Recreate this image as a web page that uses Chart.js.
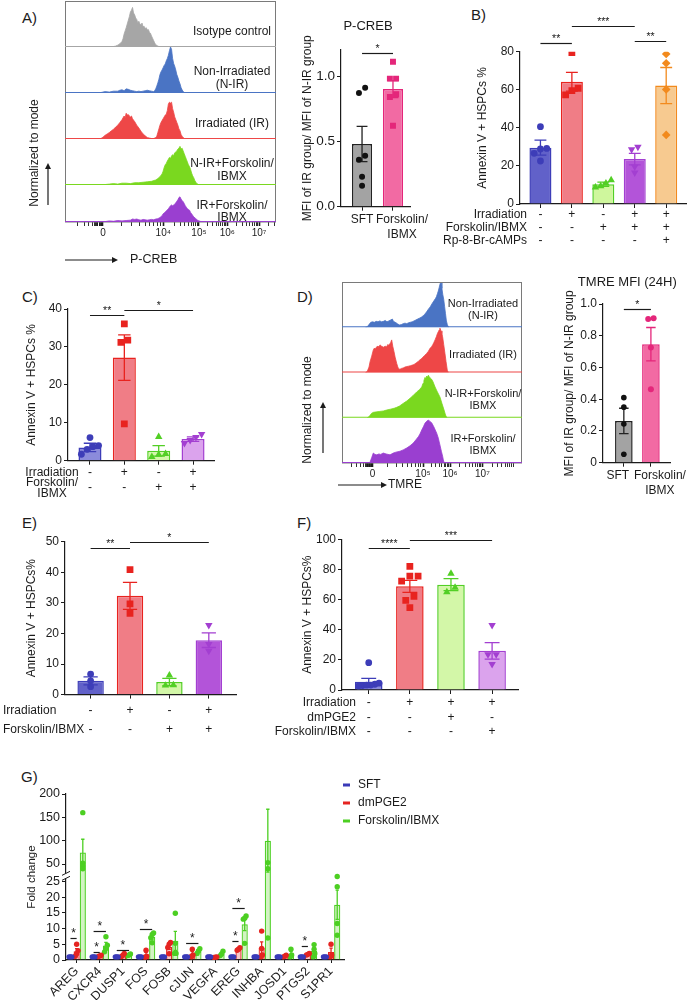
<!DOCTYPE html>
<html>
<head>
<meta charset="utf-8">
<title>cAMP signalling in irradiated HSPCs</title>
<script src="https://cdn.jsdelivr.net/npm/chart.js@4.4.1/dist/chart.umd.min.js"></script>
<style>
  body { margin: 0; background: #fff; }
  #fig { position: relative; width: 692px; height: 1000px; overflow: hidden; font-family: "Liberation Sans", Arial, sans-serif; color: #1b1b1b; }
  #fig canvas { position: absolute; }
  .tag { position: absolute; font-size: 15px; line-height: 17px; }
</style>
</head>
<body>
<div id="fig">
  <div class="tag" style="left:22px;top:9px">A)</div>
  <div class="tag" style="left:471px;top:6px">B)</div>
  <div class="tag" style="left:22px;top:288px">C)</div>
  <div class="tag" style="left:297px;top:288px">D)</div>
  <div class="tag" style="left:22px;top:514px">E)</div>
  <div class="tag" style="left:297px;top:514px">F)</div>
  <div class="tag" style="left:21px;top:768px">G)</div>
</div>
<script>
// ---------- A) P-CREB histograms: [display channel 0-100, % of mode] ----------
const pcrebTickPos = [18, 46.6, 63.5, 76.9, 92];
const pcrebTickText = ['0', '10⁴', '10⁵', '10⁶', '10⁷'];
const pcrebRows = ['Isotype control', 'Non-Irradiated\n(N-IR)', 'Irradiated (IR)', 'N-IR+Forskolin/\nIBMX', 'IR+Forskolin/\nIBMX'];
const isoPcreb = [[22,0],[23,1],[24,2],[25,4],[26,7],[27,12],[27.5,18],[28,28],[28.5,35],[29,42],[29.5,50],[30,58],[30.5,66],[31,76],[31.5,80],[32,86],[32.5,74],[33,70],[33.5,63],[34,60],[34.5,52],[35,56],[35.5,50],[36,48],[36.5,52],[37,44],[37.5,45],[38,40],[38.5,42],[39,37],[39.5,38],[40,32],[40.5,30],[41,24],[41.5,19],[42,14],[42.5,9],[43,5],[44,2],[45,0]];
const nirPcreb = [[15,0],[17,1],[19,3],[21,2],[23,4],[25,4],[26,6],[27,7],[28,5],[29,9],[30,8],[31,6],[32,5],[33,4],[34,3],[35,4],[36,3],[37,4],[38,5],[39,6],[40,5],[41,4],[42,3],[42.5,5],[43,9],[43.5,15],[44,22],[44.5,30],[45,40],[45.5,46],[46,50],[46.5,55],[47,60],[47.5,63],[48,70],[48.5,75],[49,82],[49.5,92],[50,100],[50.5,95],[51,75],[51.5,64],[52,58],[52.5,50],[53,40],[53.5,34],[54,26],[54.5,20],[55,12],[55.5,7],[56,3],[57,0]];
const irPcreb = [[15,0],[17,1],[18,4],[19,8],[20,11],[21,14],[22,18],[23,21],[24,26],[25,30],[26,36],[27,42],[27.5,46],[28,50],[28.5,47],[29,56],[29.5,52],[30,53],[30.5,50],[31,48],[31.5,50],[32,44],[33,38],[34,30],[35,24],[36,17],[37,11],[38,7],[39,3],[40,2],[41,1],[42,1],[43,3],[43.5,6],[44,14],[44.5,22],[45,30],[45.5,36],[46,40],[46.5,44],[47,48],[47.5,52],[48,54],[48.5,62],[49,76],[49.5,80],[50,78],[50.5,80],[51,66],[51.5,58],[52,48],[52.5,42],[53,36],[53.5,30],[54,22],[54.5,18],[55,10],[55.5,6],[56,3],[57,0]];
const nirFskPcreb = [[17,0],[19,1],[21,2],[23,3],[25,2],[27,4],[29,4],[31,3],[33,5],[35,5],[37,6],[39,7],[41,8],[43,11],[44,14],[45,18],[46,24],[46.5,30],[47,38],[47.5,44],[48,47],[48.5,52],[49,56],[49.5,60],[50,58],[50.5,63],[51,66],[51.5,64],[52,70],[52.5,72],[53,74],[53.5,78],[54,80],[54.5,84],[55,78],[55.5,80],[56,74],[56.5,68],[57,62],[57.5,56],[58,50],[58.5,44],[59,40],[59.5,34],[60,26],[60.5,20],[61,16],[61.5,10],[62,6],[62.5,3],[63.5,0]];
const irFskPcreb = [[17,0],[19,1],[21,3],[23,2],[25,4],[27,3],[29,4],[31,5],[32,8],[33,7],[34,8],[35,6],[36,5],[37,7],[38,6],[39,5],[40,6],[41,7],[42,6],[43,8],[44,9],[45,12],[46,17],[46.5,22],[47,24],[47.5,27],[48,30],[48.5,33],[49,36],[49.5,40],[50,44],[50.5,46],[51,44],[51.5,46],[52,48],[52.5,52],[53,56],[53.5,60],[54,66],[54.5,68],[55,62],[55.5,58],[56,55],[56.5,50],[57,44],[57.5,40],[58,36],[58.5,34],[59,32],[59.5,26],[60,22],[60.5,18],[61,14],[62,9],[63,4],[64,2],[65,0]];

// ---------- D) TMRE histograms ----------
const tmreTickPos = [17, 45, 60, 78];
const tmreTickText = ['0', '10⁵', '10⁶', '10⁷'];
const tmreRows = ['Non-Irradiated\n(N-IR)', 'Irradiated (IR)', 'N-IR+Forskolin/\nIBMX', 'IR+Forskolin/\nIBMX'];
const nirTmre = [[13,0],[14,1],[15,6],[16,11],[17,12],[18,11],[19,13],[20,12],[21,14],[22,12],[23,13],[24,15],[25,12],[26,14],[27,16],[28,18],[28.5,14],[29,12],[30,10],[31,7],[32,5],[33,6],[34,8],[35,9],[36,8],[37,10],[38,11],[39,12],[40,14],[41,16],[42,18],[43,20],[44,22],[45,25],[46,29],[47,34],[48,40],[49,45],[50,52],[51,58],[52,64],[52.5,68],[53,74],[53.5,80],[54,88],[54.5,96],[55,100],[55.5,86],[56,72],[56.5,62],[57,46],[57.5,30],[58,14],[58.5,6],[59,1],[59.5,0]];
const irTmre = [[13,0],[14,2],[15,12],[15.6,24],[16.5,36],[17.4,50],[18,54],[18.5,52],[19.3,57],[20,58],[20.5,56],[21.1,61],[22,58],[23,56],[24,58],[24.8,57],[25.5,62],[26,60],[27,66],[27.6,72],[28.2,58],[28.9,46],[29.5,34],[30.4,20],[31,12],[31.6,8],[32.2,7],[33,9],[34,10],[35,12],[35.9,13],[37,14],[38,15],[39.6,17],[40.5,19],[41.5,22],[42.5,25],[43.3,28],[44,30],[45,34],[46,38],[47,42],[48,47],[49,54],[49.8,57],[50.5,62],[51,66],[51.7,72],[52.5,80],[53,86],[53.5,90],[54,94],[54.4,98],[55,92],[55.5,86],[55.9,79],[56.5,62],[57.2,42],[57.8,24],[58.5,5],[59.1,0]];
const nirFskTmre = [[14,0],[14.6,1],[15.5,5],[16.5,10],[17.5,12],[19.3,13],[21,14],[23,15],[24.8,17],[27,19],[29,21],[30.4,23],[32,26],[34.1,32],[36,37],[37.8,43],[39.5,49],[41.5,57],[43,62],[44.3,68],[45,76],[45.5,82],[46.1,89],[46.5,86],[47,92],[47.5,90],[48,94],[48.5,90],[49,88],[49.8,85],[50.5,80],[51.7,68],[53,57],[54.4,46],[55.5,32],[56.7,17],[57.5,6],[58.1,1],[58.5,0]];
const irFskTmre = [[15,0],[15.6,2],[16.5,12],[17.4,22],[18.3,19],[19.3,18],[20.5,20],[21.5,19],[22.9,22],[24.5,20],[26.7,18],[28.5,22],[30,24],[32.2,26],[34,29],[35.9,33],[37.8,38],[39.6,44],[41,51],[42.4,58],[43.3,64],[44.3,73],[45.2,80],[46.1,88],[47,92],[48,95],[48.5,93],[49.8,89],[51,80],[52.6,66],[53.5,55],[54.4,40],[55.2,26],[55.9,15],[56.3,7],[56.7,1],[57,0]];

// ---------- bar panels: means, SEM, replicate points ----------
const mfiGroups = ['SFT', 'Forskolin/\nIBMX'];
const pcrebMfiMean = [0.48, 0.90];
const pcrebMfiSem = [0.135, 0.065];
const pcrebMfiPts = [[0.91, 0.87, 0.39, 0.36, 0.23, 0.16], [1.11, 0.98, 0.98, 0.86, 0.84, 0.62]];
const sigA = [[0, 1, '*', 1.176]];

const annexinBMean = [29.6, 64.2, 10.4, 23.6, 62.2];
const annexinBSem = [3.9, 4.9, 1.1, 3.0, 9.5];
const annexinBPts = [[40.6, 29.2, 28.9, 26.6, 22.6], [79.5, 60.8, 59.5, 57.3], [12.6, 10.9, 9.4, 8.8], [30.0, 28.7, 19.6, 16.5], [78.8, 73.9, 60.2, 36.3]];
const condB = [['Irradiation', '-+-++'], ['Forskolin/IBMX', '--+++'], ['Rp-8-Br-cAMPs', '----+']];
const sigB = [[0, 1, '**', 84.4], [1, 3, '***', 93.5], [3, 4, '**', 85.8]];

const annexinCMean = [3.5, 27.2, 2.6, 5.7];
const annexinCSem = [1.1, 6.0, 1.4, 0.6];
const annexinCPts = [[6.1, 4.0, 3.7, 3.0, 1.7], [36.1, 31.8, 31.2, 9.7], [6.3, 1.8, 1.6, 1.0], [7.0, 6.2, 5.4, 4.6]];
const condC = [['Irradiation', '-+-+'], ['Forskolin/\nIBMX', '--++']];
const sigC = [[0, 1, '**', 38.4], [1, 3, '*', 39.7]];

const tmreMfiMean = [0.263, 0.747];
const tmreMfiSem = [0.08, 0.105];
const tmreMfiPts = [[0.41, 0.35, 0.244, 0.053], [0.905, 0.91, 0.726, 0.463]];
const sigD = [[0, 1, '*', 0.967]];

const annexinEMean = [4.5, 32.3, 4.1, 17.8];
const annexinESem = [1.3, 4.4, 1.2, 2.4];
const annexinEPts = [[6.7, 4.5, 2.6], [40.9, 29.7, 26.6], [6.3, 3.1, 3.0], [22.7, 16.5, 14.3]];
const condE = [['Irradiation', '-+-+'], ['Forskolin/IBMX', '--++']];
const sigE = [[0, 1, '**', 47.8], [1, 3, '*', 49.8]];

const annexinFMean = [5.5, 68.8, 69.9, 26.0];
const annexinFSem = [2.2, 4.0, 4.0, 5.5];
const annexinFPts = [[18.1, 4.5, 3.8, 3.3, 3.0, 2.6, 3.2], [82.0, 75.6, 75.6, 72.3, 62.2, 59.5, 54.7], [77.2, 67.9, 65.0], [43.0, 23.6, 23.6, 17.2]];
const condF = [['Irradiation', '-+++'], ['dmPGE2', '--+-'], ['Forskolin/IBMX', '---+']];
const sigF = [[0, 1, '****', 94.5], [1, 3, '***', 99.8]];

// ---------- G) qPCR fold change ----------
const genes = ['AREG', 'CXCR4', 'DUSP1', 'FOS', 'FOSB', 'cJUN', 'VEGFA', 'EREG', 'INHBA', 'JOSD1', 'PTGS2', 'S1PR1'];
const foldSeries = ['SFT', 'dmPGE2', 'Forskolin/IBMX'];
const sftFold = [[1,1,1],[1,1,1],[1,1,1],[1,1,1],[1,1,1],[1,1,1],[1,1,1],[1,1,1],[1,1,1],[1,1,1],[1,1,1],[1,1,1]];
const pgeFold = [[5.0,3.0,2.0,1.2],[1.5,1.3,1.1],[2.1,1.5,1.1],[3.1,1.2,0.9],[5.6,5.0,4.0,2.0],[3.4,1.6,1.0],[1.0,0.9,0.8],[3.9,3.4,3.1],[9.2,3.7,1.6,1.0],[1.5,1.2,1.0],[2.1,1.8,1.6],[5.0,1.6,1.0]];
const fskFold = [[160,52,46,40],[7.4,4.7,3.7,2.6],[1.9,1.6,1.4],[8.6,8.1,7.1,5.5],[14.9,5.3,2.1,2.1],[3.6,2.9,2.1],[2.8,1.9,1.4],[14.0,13.3,13.0,5.3],[300,53,40,7],[3.4,1.6,1.0],[4.9,3.4,2.1,1.0],[27.5,23.3,11.6,7.9]];
const foldTicks = [0, 5, 10, 15, 20, 25, 50, 100, 150, 200];
const foldSig = [[0,0,1,7.1],[1,0,1,2.4],[1,0,2,9.2],[2,0,2,3.2],[3,0,2,10],[5,0,2,5.3],[7,0,1,6.1],[7,0,2,16.5],[10,0,1,4.5]];

// ---------- common ----------
const ink = '#1b1b1b';
const fam = '"Liberation Sans", Arial, sans-serif';
Chart.defaults.font.family = fam;
Chart.defaults.font.size = 12;
Chart.defaults.color = ink;
Chart.defaults.animation = false;
const fig = document.getElementById('fig');

function makeCanvas(c) {
  const el = document.createElement('canvas');
  el.width = c.w; el.height = c.h;
  el.style.left = c.left + 'px'; el.style.top = c.top + 'px';
  el.style.width = c.w + 'px'; el.style.height = c.h + 'px';
  fig.appendChild(el);
  return el;
}

const mean = a => a.reduce((s, v) => s + v, 0) / a.length;
const sem = a => { const m = mean(a); return Math.sqrt(a.reduce((s, v) => s + (v - m) ** 2, 0) / (a.length - 1) / a.length); };

// side-by-side offsets for replicate points that would overlap
function spread(vals, near, step, limit) {
  const order = vals.map((v, i) => i).sort((p, q) => vals[p] - vals[q]);
  const off = vals.map(() => 0);
  let group = [];
  const place = () => {
    const s = group.length > 1 ? Math.min(step, 2 * limit / (group.length - 1)) : 0;
    group.forEach((k, j) => { off[k] = (j - (group.length - 1) / 2) * s; });
  };
  order.forEach(k => {
    if (group.length && vals[k] - vals[group[group.length - 1]] > near) { place(); group = []; }
    group.push(k);
  });
  place();
  return off;
}

function arrow(ctx, x0, y0, x1, y1) {
  const ang = Math.atan2(y1 - y0, x1 - x0), L = 6, W = 3;
  const c = Math.cos(ang), s = Math.sin(ang);
  ctx.strokeStyle = ink; ctx.fillStyle = ink; ctx.lineWidth = 1.2;
  ctx.beginPath(); ctx.moveTo(x0, y0); ctx.lineTo(x1 - L * c, y1 - L * s); ctx.stroke();
  ctx.beginPath(); ctx.moveTo(x1, y1);
  ctx.lineTo(x1 - L * c + W * s, y1 - L * s - W * c);
  ctx.lineTo(x1 - L * c - W * s, y1 - L * s + W * c);
  ctx.closePath(); ctx.fill();
}

function drawFlow(chart, f) {
  const ctx = chart.ctx, a = chart.chartArea;
  ctx.lineWidth = 1; ctx.strokeStyle = '#7a7a7a';
  ctx.strokeRect(a.left + 0.5, a.top + 0.5, a.right - a.left - 1, a.bottom - a.top - 0.5);
  f.colors.forEach((c, i) => {
    const s = chart.scales['r' + i];
    ctx.strokeStyle = c; ctx.lineWidth = 1.2;
    ctx.beginPath(); ctx.moveTo(a.left, s.bottom - 0.5); ctx.lineTo(a.right, s.bottom - 0.5); ctx.stroke();
    const lines = f.rows[i].split('\n');
    ctx.fillStyle = ink; ctx.font = f.font + 'px ' + fam; ctx.textAlign = 'center'; ctx.textBaseline = 'middle';
    const cy = (s.top + s.bottom) / 2 + f.labelDy - (lines.length - 1) * f.lh / 2;
    lines.forEach((t, k) => ctx.fillText(t, a.right + f.labelDx, cy + k * f.lh));
  });
  ctx.save();
  ctx.translate(a.left + f.yTitleDx, a.bottom + f.yTitleDy); ctx.rotate(-Math.PI / 2);
  ctx.font = '12px ' + fam; ctx.textAlign = 'center'; ctx.textBaseline = 'middle'; ctx.fillStyle = ink;
  ctx.fillText(f.yTitle, 0, 0);
  ctx.restore();
  arrow(ctx, a.left + f.arrowDx, a.bottom + f.arrowDy0, a.left + f.arrowDx, a.bottom + f.arrowDy1);
  arrow(ctx, a.left + f.xArrow0, a.bottom + f.xArrowDy, a.left + f.xArrow1, a.bottom + f.xArrowDy);
  ctx.textAlign = 'left'; ctx.textBaseline = 'middle'; ctx.font = f.xFont + 'px ' + fam;
  ctx.fillText(f.xTitle, a.left + f.xTitleDx, a.bottom + f.xArrowDy);
}

const panelDecor = {
  id: 'panelDecor',
  afterDatasetDraw(chart, args) {
    const ds = chart.data.datasets[args.index];
    if (!ds.errors) return;
    const ctx = chart.ctx, y = chart.scales.y;
    ctx.save();
    ctx.lineWidth = 1.3;
    args.meta.data.forEach((bar, i) => {
      const e = ds.errors[i];
      if (!e) return;
      const m = ds.data[i].y;
      const top = y.getPixelForValue(m + e), bot = y.getPixelForValue(Math.max(m - e, 0));
      const h = bar.width * 0.27;
      ctx.strokeStyle = Array.isArray(ds.borderColor) ? ds.borderColor[i] : ds.borderColor;
      ctx.beginPath();
      ctx.moveTo(bar.x, top); ctx.lineTo(bar.x, bot);
      ctx.moveTo(bar.x - h, top); ctx.lineTo(bar.x + h, top);
      ctx.moveTo(bar.x - h, bot); ctx.lineTo(bar.x + h, bot);
      ctx.stroke();
    });
    ctx.restore();
  },
  afterDraw(chart) {
    const d = chart.canvas.decor || {};
    const ctx = chart.ctx, a = chart.chartArea;
    ctx.save();
    ctx.fillStyle = ink; ctx.strokeStyle = ink;
    if (d.flow) drawFlow(chart, d.flow);
    if (d.heading) {
      ctx.font = '13px ' + fam; ctx.textAlign = 'center'; ctx.textBaseline = 'middle'; ctx.fillStyle = ink;
      ctx.fillText(d.heading.text, (a.left + a.right) / 2 + d.heading.dx, a.top + d.heading.dy);
    }
    (d.sig || []).forEach(s => {
      const xa = chart.getDatasetMeta(s.da).data[s.ia].x, xb = chart.getDatasetMeta(s.db).data[s.ib].x;
      const y = Math.round(chart.scales.y.getPixelForValue(s.y)) + 0.5;
      ctx.strokeStyle = ink; ctx.lineWidth = 1.2;
      ctx.beginPath(); ctx.moveTo(xa, y); ctx.lineTo(xb, y); ctx.stroke();
      ctx.font = (d.sigFont || 10.5) + 'px ' + fam; ctx.textAlign = 'center'; ctx.textBaseline = 'alphabetic'; ctx.fillStyle = ink;
      ctx.fillText(s.t, (xa + xb) / 2, y - 2);
    });
    if (d.conds) {
      const meta = chart.getDatasetMeta(0), c = d.conds;
      ctx.font = '12px ' + fam; ctx.textBaseline = 'middle'; ctx.fillStyle = ink;
      c.rows.forEach(([label, signs], r) => {
        const y = a.bottom + c.y0 + r * c.dy;
        ctx.textAlign = 'center';
        signs.split('').forEach((s, i) => ctx.fillText(s, meta.data[i].x, y));
        ctx.textAlign = c.align;
        const lines = label.split('\n');
        lines.forEach((t, k) => ctx.fillText(t, a.left + c.lx, y + (k - (lines.length - 1) / 2) * 11.5));
      });
    }
    if (d.brk) {
      const ys = chart.scales.y, x = a.left;
      const p0 = ys.getPixelForValue(d.brk[0]), p1 = ys.getPixelForValue(d.brk[1]);
      ctx.fillStyle = '#fff'; ctx.fillRect(x - 2, p1, 4, p0 - p1);
      ctx.strokeStyle = ink; ctx.lineWidth = 1;
      [p0, p1].forEach(p => { ctx.beginPath(); ctx.moveTo(x - 4, p + 2); ctx.lineTo(x + 4, p - 2); ctx.stroke(); });
    }
    if (d.key) {
      const bars = chart.data.datasets.filter(x => x.type === 'bar');
      ctx.font = '12px ' + fam; ctx.textAlign = 'left'; ctx.textBaseline = 'middle';
      bars.forEach((b, i) => {
        const y = a.top + d.key.dy0 + i * d.key.dy;
        ctx.fillStyle = b.borderColor; ctx.fillRect(a.right + d.key.dx, y - 1.5, 7, 3);
        ctx.fillStyle = ink; ctx.fillText(b.label, a.right + d.key.dx + 15, y);
      });
    }
    ctx.restore();
  }
};

// ---------- flow histogram panels ----------
function flowTicks(pos, text) {
  const t = pos.map((v, i) => ({value: v, lab: text[i]}));
  const gaps = pos.slice(1).map((v, i) => [pos[i], v - pos[i]]);
  const last = pos[pos.length - 1];
  gaps.push([last, last - pos[pos.length - 2]]);
  gaps.push([pos[0] - (pos[1] - pos[0]) * 0.6, (pos[1] - pos[0]) * 0.6]);
  gaps.forEach(([start, w]) => { for (let m = 2; m < 10; m++) t.push({value: start + w * Math.log10(m), lab: ''}); });
  for (let k = 1; k <= 6; k++) t.push({value: pos[0] - 0.6 * k, lab: ''});
  return t.filter(q => q.value > 0.5 && q.value < 99.5).sort((p, q) => p.value - q.value);
}

function flowPanel(p) {
  const canvas = makeCanvas(p.canvas);
  canvas.decor = {flow: p.decor};
  const scales = {
    x: {
      type: 'linear', min: 0, max: 100,
      afterBuildTicks: s => { s.ticks = flowTicks(p.tickPos, p.tickText); },
      afterFit: s => { s.height = p.canvas.top + p.canvas.h - p.area.b; },
      ticks: {autoSkip: false, maxRotation: 0, padding: 1, font: {size: 10}, callback: (v, i, t) => t[i].lab},
      grid: {drawOnChartArea: false, tickLength: 4, color: ink, tickWidth: c => (c.tick && c.tick.lab) ? 1.6 : 0.9},
      border: {display: false}
    }
  };
  // stacked row axes are laid out bottom-up, so add the lowest row first
  for (let i = p.samples.length - 1; i >= 0; i--) {
    scales['r' + i] = {type: 'linear', position: 'left', stack: 'rows', stackWeight: p.weights[i], min: 0, max: 100, display: false};
  }
  return new Chart(canvas, {
    type: 'line',
    data: {
      datasets: p.samples.map((s, i) => ({
        data: s.map(q => ({x: q[0], y: q[1]})), yAxisID: 'r' + i,
        borderColor: p.decor.colors[i], backgroundColor: p.decor.colors[i],
        borderWidth: 0.8, fill: 'origin', pointRadius: 0, tension: 0
      }))
    },
    options: {
      responsive: false, events: [],
      layout: {padding: {left: p.area.l - p.canvas.left, top: p.area.t - p.canvas.top, right: p.canvas.left + p.canvas.w - p.area.r, bottom: 0}},
      plugins: {legend: {display: false}, tooltip: {enabled: false}},
      scales
    },
    plugins: [panelDecor]
  });
}

// ---------- bar + scatter panels ----------
function frame(c, a, titleX, titleSize) {
  const scaleLeft = titleX - titleSize * 1.2 / 2;
  return {
    pad: {left: scaleLeft - c.left, top: a.t - c.top, right: c.left + c.w - a.r, bottom: 0},
    yW: a.l - scaleLeft, xH: c.top + c.h - a.b
  };
}

function barPanel(p) {
  const canvas = makeCanvas(p.canvas);
  const L = frame(p.canvas, p.area, p.titleX, 12);
  canvas.decor = {
    heading: p.heading, conds: p.conds,
    sig: (p.sig || []).map(s => ({da: 0, ia: s[0], db: 0, ib: s[1], t: s[2], y: s[3]}))
  };
  const yTicks = [];
  for (let k = 0; k * p.yStep <= (p.yTop || p.yMax) + 1e-9; k++) yTicks.push({value: +(k * p.yStep).toFixed(4)});
  const dotSets = p.points.map((vals, i) => {
    const off = spread(vals, p.yMax * 0.035, 0.2, 0.25);
    return {
      type: 'line', order: 0, showLine: false,
      data: vals.map((v, k) => ({x: i + off[k], y: v})),
      pointStyle: p.shapes[i], pointRotation: p.rots ? p.rots[i] : 0, pointRadius: p.radii[i],
      pointBorderWidth: 0, pointBackgroundColor: p.dots[i], pointBorderColor: p.dots[i]
    };
  });
  const bars = {
    type: 'bar', order: 1, data: p.means.map((m, i) => ({x: i, y: m})), errors: p.sems,
    backgroundColor: p.fills, borderColor: p.edges, borderWidth: 1.5,
    categoryPercentage: 1, barPercentage: p.barFrac
  };
  const pre = p.labelPre || [], post = p.labelPost || [];
  return new Chart(canvas, {
    type: 'bar',
    data: {datasets: [bars, ...dotSets]},
    options: {
      responsive: false, events: [],
      layout: {padding: L.pad},
      plugins: {legend: {display: false}, tooltip: {enabled: false}},
      scales: {
        x: {
          type: 'linear', min: p.xMin, max: p.xMax, offset: false,
          afterBuildTicks: s => { s.ticks = p.groups.map((g, i) => ({value: i})); },
          afterFit: s => { s.height = L.xH; },
          ticks: {display: !!p.showLabels, autoSkip: false, maxRotation: 0, padding: 2, font: {size: 12},
            callback: (v, i) => p.groups[i].split('\n').map(t => (pre[i] || '') + t + (post[i] || ''))},
          grid: {offset: false, drawOnChartArea: false, tickLength: 4, color: ink},
          border: {color: ink, width: 1.2}
        },
        y: {
          min: 0, max: p.yMax,
          afterBuildTicks: s => { s.ticks = yTicks.map(t => ({value: t.value})); },
          afterFit: s => { s.width = L.yW; },
          ticks: {autoSkip: false, z: 1, padding: 2, font: {size: p.tickSize || 12}, callback: p.yFmt || (v => v)},
          grid: {drawOnChartArea: false, tickLength: 4, color: ink},
          border: {color: ink, width: 1.2},
          title: {display: true, text: p.yTitle, font: {size: 12}, padding: 0}
        }
      }
    },
    plugins: [panelDecor]
  });
}

// ---------- broken fold-change axis for G ----------
const foldLowTop = 26, foldHighBottom = 30;
function foldFraction(v) {
  const lowShare = 0.492, gapShare = 0.03;
  if (v <= foldLowTop) return v / foldLowTop * lowShare;
  if (v < foldHighBottom) return lowShare + (v - foldLowTop) / (foldHighBottom - foldLowTop) * gapShare;
  return lowShare + gapShare + (v - foldHighBottom) / (200 - foldHighBottom) * (1 - lowShare - gapShare);
}
class BrokenScale extends Chart.LinearScale {
  buildTicks() { this.start = this.min; this.end = this.max; return foldTicks.map(v => ({value: v})); }
  getPixelForValue(v) { return this.getPixelForDecimal(foldFraction(v)); }
  getValueForPixel(px) {
    const d = this.getDecimalForPixel(px);
    let lo = 0, hi = 400;
    for (let k = 0; k < 40; k++) { const mid = (lo + hi) / 2; if (foldFraction(mid) < d) lo = mid; else hi = mid; }
    return lo;
  }
}
BrokenScale.id = 'broken';
BrokenScale.defaults = {};
Chart.register(BrokenScale);

// ---------- build ----------
const treatEdge = ['#3d3db8', '#e8231f', '#52cf25', '#a33fd1', '#f28a1d'];
const shapes5 = ['circle', 'rect', 'triangle', 'triangle', 'rectRot'];
const rots5 = [0, 0, 0, 180, 0];
const radii5 = [3.4, 4.8, 4.3, 4.3, 4.3];
const en = '\u2002';

flowPanel({
  canvas: {left: 0, top: 0, w: 290, h: 275}, area: {l: 65, t: 1, r: 276, b: 222},
  samples: [isoPcreb, nirPcreb, irPcreb, nirFskPcreb, irFskPcreb], weights: [46, 46, 46, 46, 37],
  tickPos: pcrebTickPos, tickText: pcrebTickText,
  decor: {colors: ['#a6a6a6', '#4a74c4', '#ee4747', '#7ad81f', '#9a3fd0'], rows: pcrebRows, font: 12, lh: 12.5,
    labelDx: -44, labelDy: 8, yTitle: 'Normalized to mode', yTitleDx: -30, yTitleDy: -69,
    arrowDx: -17, arrowDy0: -17, arrowDy1: -59, xTitle: 'P-CREB', xFont: 12.5, xArrow0: 0, xArrow1: 53, xArrowDy: 38, xTitleDx: 65}
});

barPanel({
  canvas: {left: 280, top: 0, w: 170, h: 255}, area: {l: 341, t: 49.9, r: 410, b: 206.7}, titleX: 308,
  groups: mfiGroups, showLabels: true, labelPre: ['', en + en + en], xMin: -0.68, xMax: 1.55, yMax: 1.2, yTop: 1.0, yStep: 0.5, tickSize: 13.5,
  yFmt: v => v.toFixed(1), yTitle: 'MFI of IR group/ MFI of N-IR group',
  means: pcrebMfiMean, sems: pcrebMfiSem, points: pcrebMfiPts,
  fills: ['#a3a3a3', '#f26aa3'], edges: ['#222222', '#e4267a'], dots: ['#111111', '#e4267a'],
  shapes: ['circle', 'rect'], radii: [3, 4.2], barFrac: 0.65,
  heading: {text: 'P-CREB', dx: -7.5, dy: -23}, sig: sigA
});

barPanel({
  canvas: {left: 438, top: 0, w: 254, h: 252}, area: {l: 520, t: 51.7, r: 686, b: 204}, titleX: 483,
  groups: ['', '', '', '', ''], xMin: -0.65, xMax: 4.63, yMax: 80, yStep: 20, yTitle: 'Annexin V + HSPCs %',
  means: annexinBMean, sems: annexinBSem, points: annexinBPts,
  fills: ['#6161c9', '#f07d86', '#cff79d', '#b354d9', '#f7ca90'], edges: treatEdge, dots: treatEdge,
  shapes: shapes5, rots: rots5, radii: radii5, barFrac: 0.7,
  sig: sigB, conds: {rows: condB, y0: 11, dy: 13, align: 'right', lx: 7}
});

barPanel({
  canvas: {left: 0, top: 285, w: 240, h: 215}, area: {l: 68, t: 309, r: 214, b: 460.7}, titleX: 32,
  groups: ['', '', '', ''], xMin: -0.64, xMax: 3.61, yMax: 40, yStep: 10, yTitle: 'Annexin V + HSPCs %',
  means: annexinCMean, sems: annexinCSem, points: annexinCPts,
  fills: ['#8b8bdb', '#f07d86', '#d3f7a8', '#dba3ed'], edges: treatEdge, dots: treatEdge,
  shapes: shapes5, rots: rots5, radii: radii5, barFrac: 0.67,
  sig: sigC, conds: {rows: condC, y0: 12.3, dy: 15, align: 'center', lx: -16}
});

flowPanel({
  canvas: {left: 285, top: 276, w: 245, h: 222}, area: {l: 342, t: 282, r: 522, b: 463},
  samples: [nirTmre, irTmre, nirFskTmre, irFskTmre], weights: [1, 1, 1, 1],
  tickPos: tmreTickPos, tickText: tmreTickText,
  decor: {colors: ['#4a74c4', '#ee4747', '#7ad81f', '#9a3fd0'], rows: tmreRows, font: 11, lh: 12,
    labelDx: -39, labelDy: 5, yTitle: 'Normalized to mode', yTitleDx: -34, yTitleDy: -53,
    arrowDx: -19, arrowDy0: -10, arrowDy1: -61, xTitle: 'TMRE', xFont: 12, xArrow0: -4, xArrow1: 45, xArrowDy: 22, xTitleDx: 46}
});

barPanel({
  canvas: {left: 560, top: 268, w: 132, h: 232}, area: {l: 603, t: 304, r: 678, b: 462.7}, titleX: 570,
  groups: mfiGroups, showLabels: true, labelPre: ['', en + en + en], labelPost: [en + en, ''],
  xMin: -0.77, xMax: 1.73, yMax: 1.0, yStep: 0.2,
  yFmt: v => v === 0 ? '0' : v.toFixed(1), yTitle: 'MFI of IR group/ MFI of N-IR group',
  means: tmreMfiMean, sems: tmreMfiSem, points: tmreMfiPts,
  fills: ['#a3a3a3', '#f26aa3'], edges: ['#222222', '#e4267a'], dots: ['#111111', '#e4267a'],
  shapes: ['circle', 'circle'], radii: [2.8, 3], barFrac: 0.65,
  heading: {text: 'TMRE MFI (24H)', dx: -9.5, dy: -22}, sig: sigD
});

barPanel({
  canvas: {left: 0, top: 515, w: 250, h: 235}, area: {l: 65, t: 541.7, r: 236, b: 694.6}, titleX: 31.7,
  groups: ['', '', '', ''], xMin: -0.65, xMax: 3.69, yMax: 50, yStep: 10, yTitle: 'Annexin V + HSPCs%',
  means: annexinEMean, sems: annexinESem, points: annexinEPts,
  fills: ['#6161c9', '#f07d86', '#d3f7a8', '#b354d9'], edges: treatEdge, dots: treatEdge,
  shapes: shapes5, rots: rots5, radii: radii5, barFrac: 0.67,
  sig: sigE, conds: {rows: condE, y0: 16, dy: 18.7, align: 'left', lx: -62}
});

barPanel({
  canvas: {left: 268, top: 515, w: 260, h: 235}, area: {l: 342, t: 539.3, r: 518, b: 690}, titleX: 308,
  groups: ['', '', '', ''], xMin: -0.65, xMax: 3.63, yMax: 100, yStep: 20, yTitle: 'Annexin V + HSPCs%',
  means: annexinFMean, sems: annexinFSem, points: annexinFPts,
  fills: ['#8b8bdb', '#f07d86', '#d3f7a8', '#dba3ed'], edges: treatEdge, dots: treatEdge,
  shapes: shapes5, rots: rots5, radii: radii5, barFrac: 0.67,
  sig: sigF, conds: {rows: condF, y0: 12.7, dy: 14.5, align: 'right', lx: 14}
});

// G
(function () {
  const c = {left: 0, top: 765, w: 470, h: 235}, a = {l: 66, t: 794, r: 344, b: 960};
  const canvas = makeCanvas(c);
  const L = frame(c, a, 31.7, 11.5);
  const reps = [sftFold, pgeFold, fskFold];
  const edge = ['#3a3ab8', '#e52421', '#4ccf22'];
  const fill = ['rgba(80,80,200,0.35)', 'rgba(235,70,70,0.3)', 'rgba(110,215,60,0.3)'];
  const slot = 0.8 / 3;
  const bars = reps.map((r, s) => ({
    type: 'bar', order: 1, label: foldSeries[s],
    data: r.map((v, i) => ({x: i, y: mean(v)})), errors: r.map(v => sem(v)),
    backgroundColor: fill[s], borderColor: edge[s], borderWidth: 1.2,
    categoryPercentage: 0.8, barPercentage: 1
  }));
  const dots = reps.map((r, s) => ({
    type: 'line', order: 0, showLine: false,
    data: r.flatMap((v, i) => { const off = spread(v, 1.2, 0.06, 0.08); return v.map((y, k) => ({x: i + (s - 1) * slot + off[k], y})); }),
    pointRadius: 2.7, pointBorderWidth: 0, pointBackgroundColor: edge[s], pointBorderColor: edge[s]
  }));
  canvas.decor = {
    sig: foldSig.map(q => ({da: q[1], ia: q[0], db: q[2], ib: q[0], t: '*', y: q[3]})), sigFont: 12,
    brk: [foldLowTop, foldHighBottom], key: {dx: -1, dy0: -9, dy: 18}
  };
  new Chart(canvas, {
    type: 'bar',
    data: {datasets: [...bars, ...dots]},
    options: {
      responsive: false, events: [],
      layout: {padding: L.pad},
      plugins: {legend: {display: false}, tooltip: {enabled: false}},
      scales: {
        x: {
          type: 'linear', min: -0.46, max: 11.56, offset: false,
          afterBuildTicks: s => { s.ticks = genes.map((g, i) => ({value: i})); },
          afterFit: s => { s.height = L.xH; },
          ticks: {autoSkip: false, minRotation: 45, maxRotation: 45, padding: 1, font: {size: 12.5}, callback: (v, i) => genes[i]},
          grid: {offset: false, drawOnChartArea: false, tickLength: 3, color: ink},
          border: {color: ink, width: 1.2}
        },
        y: {
          type: 'broken', min: 0, max: 200,
          afterFit: s => { s.width = L.yW; },
          ticks: {padding: 2, font: {size: 12.5}, callback: v => v},
          grid: {drawOnChartArea: false, tickLength: 4, color: ink},
          border: {color: ink, width: 1.2},
          title: {display: true, text: 'Fold change', font: {size: 11.5}, padding: 0}
        }
      }
    },
    plugins: [panelDecor]
  });
})();
</script>
</body>
</html>
